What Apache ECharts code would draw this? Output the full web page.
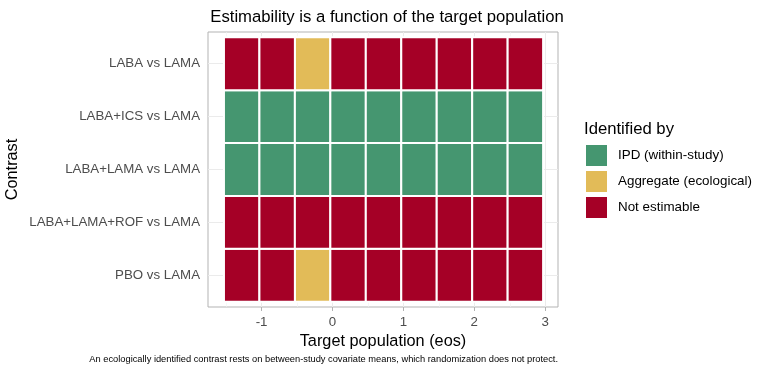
<!DOCTYPE html>
<html>
<head>
<meta charset="utf-8">
<script src="https://cdn.jsdelivr.net/npm/echarts@6/dist/echarts.min.js"></script>
<style>
  html, body { margin: 0; padding: 0; background: #fff; }
  #chart { width: 770px; height: 374px; }
</style>
</head>
<body>
<div id="chart"></div>
<script>
// tile centres on the eos axis
const eosValues = [-1.28, -0.78, -0.28, 0.22, 0.72, 1.22, 1.72, 2.22, 2.72];
// contrasts, bottom to top
const contrasts = ["PBO vs LAMA", "LABA+LAMA+ROF vs LAMA", "LABA+LAMA vs LAMA", "LABA+ICS vs LAMA", "LABA vs LAMA"];
const statusNames = ["IPD (within-study)", "Aggregate (ecological)", "Not estimable"];
const statusColors = ["#459670", "#E2BB58", "#A50026"];
// status per contrast: I = IPD, A = Aggregate, N = Not estimable
const pboStatus      = ["N", "N", "A", "N", "N", "N", "N", "N", "N"];
const rofStatus      = ["N", "N", "N", "N", "N", "N", "N", "N", "N"];
const labaLamaStatus = ["I", "I", "I", "I", "I", "I", "I", "I", "I"];
const labaIcsStatus  = ["I", "I", "I", "I", "I", "I", "I", "I", "I"];
const labaStatus     = ["N", "N", "A", "N", "N", "N", "N", "N", "N"];
const statusRows = [pboStatus, rofStatus, labaLamaStatus, labaIcsStatus, labaStatus];

const xTicks = [-1, 0, 1, 2, 3];
const xMinor = [-1.5, -0.5, 0.5, 1.5, 2.5];
const yTicks = [1, 2, 3, 4, 5];
const tileWidth = 0.5;

const codes = ["I", "A", "N"];
const seriesData = codes.map(() => []);
statusRows.forEach((row, yi) => {
  row.forEach((s, xi) => {
    seriesData[codes.indexOf(s)].push([eosValues[xi], yi + 1]);
  });
});

function renderTile(params, api) {
  const x = api.value(0), y = api.value(1);
  const p0 = api.coord([x - tileWidth / 2, y + 0.5]);
  const p1 = api.coord([x + tileWidth / 2, y - 0.5]);
  return {
    type: "rect",
    shape: { x: p0[0], y: p0[1], width: p1[0] - p0[0], height: p1[1] - p0[1] },
    style: { fill: statusColors[params.seriesIndex], stroke: "#fff", lineWidth: 2 }
  };
}

const font = "Liberation Sans, Arial, sans-serif";
const chart = echarts.init(document.getElementById("chart"));
chart.setOption({
  animation: false,
  textStyle: { fontFamily: font },
  title: [
    {
      text: "Estimability is a function of the target population",
      left: 382, top: 4, textAlign: "center",
      textStyle: { fontSize: 16.7, fontWeight: "normal", color: "#000", fontFamily: font }
    },
    {
      text: "Identified by",
      left: 579, top: 116,
      textStyle: { fontSize: 16.7, fontWeight: "normal", color: "#000", fontFamily: font }
    }
  ],
  legend: {
    orient: "vertical",
    left: 586, top: 145, padding: 0,
    itemWidth: 21, itemHeight: 21, itemGap: 5,
    icon: "rect",
    data: statusNames,
    textStyle: { fontSize: 13.4, color: "#000", padding: [0, 0, 0, 6], fontFamily: font }
  },
  grid: {
    left: 208, right: 212, top: 32, bottom: 67,
    show: true, borderColor: "#b3b3b3", borderWidth: 1, backgroundColor: "#fff"
  },
  xAxis: [
    {
      type: "value", min: -1.755, max: 3.18,
      name: "Target population (eos)", nameLocation: "middle", nameGap: 27,
      nameTextStyle: { fontSize: 16.3, color: "#000", fontFamily: font },
      axisLine: { show: false },
      axisTick: { show: true, length: 4, lineStyle: { color: "#b3b3b3" }, customValues: xTicks },
      axisLabel: { customValues: xTicks, color: "#4d4d4d", fontSize: 13.3, margin: 9 },
      splitLine: { show: true, lineStyle: { color: "#ebebeb", width: 1 } }
    },
    {
      type: "value", min: -1.755, max: 3.18, position: "bottom",
      axisLine: { show: false },
      axisTick: { show: false, customValues: xMinor },
      axisLabel: { show: false, customValues: xMinor },
      splitLine: { show: true, lineStyle: { color: "#f2f2f2", width: 0.6 } }
    }
  ],
  yAxis: {
    type: "value", min: 0.4, max: 5.6,
    name: "Contrast", nameLocation: "middle", nameGap: 187,
    nameTextStyle: { fontSize: 16.3, color: "#000", fontFamily: font },
    axisLine: { show: false },
    axisTick: { show: true, length: 4, lineStyle: { color: "#b3b3b3" }, customValues: yTicks },
    axisLabel: {
      customValues: yTicks, color: "#4d4d4d", fontSize: 13.3, margin: 8,
      formatter: v => contrasts[Math.round(v) - 1]
    },
    splitLine: { show: true, lineStyle: { color: "#ebebeb", width: 1 } }
  },
  series: statusNames.map((name, i) => ({
    name: name,
    type: "custom",
    renderItem: renderTile,
    itemStyle: { color: statusColors[i] },
    encode: { x: 0, y: 1 },
    data: seriesData[i]
  })),
  graphic: [
    {
      type: "text", right: 212, top: 355,
      style: {
        text: "An ecologically identified contrast rests on between-study covariate means, which randomization does not protect.",
        fontSize: 9.3, fill: "#000", fontFamily: font
      }
    }
  ]
});
</script>
</body>
</html>
